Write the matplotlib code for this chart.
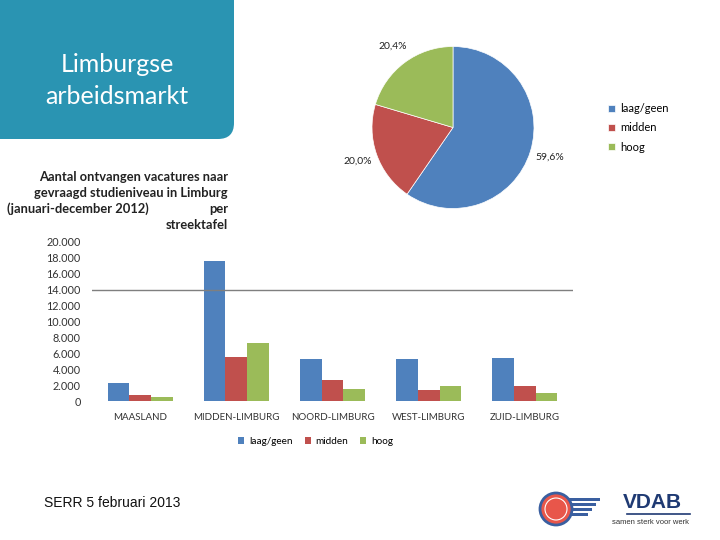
import numpy as np
import matplotlib.pyplot as plt
from matplotlib.patches import FancyBboxPatch, Circle, Rectangle

# bar chart data
regions = ["MAASLAND", "MIDDEN-LIMBURG", "NOORD-LIMBURG", "WEST-LIMBURG", "ZUID-LIMBURG"]
laag_geen = [2300, 17650, 5250, 5250, 5450]
midden = [800, 5550, 2700, 1400, 1900]
hoog = [500, 7350, 1550, 1900, 1050]
yticks = [0, 2000, 4000, 6000, 8000, 10000, 12000, 14000, 16000, 18000, 20000]

# pie chart data
levels = ["laag/geen", "midden", "hoog"]
pie_pct = [59.6, 20.0, 20.4]

colors = ["#4F81BD", "#C0504D", "#9BBB59"]
teal = "#2A94B2"

fig = plt.figure(figsize=(7.2, 5.4), dpi=100)

# background axes in pixel coordinates for the slide decoration
bg = fig.add_axes([0, 0, 1, 1], zorder=-1)
bg.set_xlim(0, 720)
bg.set_ylim(540, 0)
bg.axis("off")

box = FancyBboxPatch((-40, -40), 274, 179, boxstyle="round,pad=0,rounding_size=16",
                     facecolor=teal, edgecolor="none")
bg.add_patch(box)
bg.text(117, 64, "Limburgse", color="white", fontsize=18, family="Lato",
        ha="center", va="center")
bg.text(117, 97, "arbeidsmarkt", color="white", fontsize=18, family="Lato",
        ha="center", va="center")

# bar chart title (justified look)
tkw = dict(fontsize=9.3, fontweight="bold", family="Lato", color="#222222", va="center")
bg.text(228, 177, "Aantal ontvangen vacatures naar", ha="right", **tkw)
bg.text(228, 193, "gevraagd studieniveau in Limburg", ha="right", **tkw)
bg.text(7, 209, "(januari-december 2012)", ha="left", **tkw)
bg.text(228, 209, "per", ha="right", **tkw)
bg.text(228, 225, "streektafel", ha="right", **tkw)

bg.text(44, 503, "SERR 5 februari 2013", fontsize=10, family="Liberation Sans",
        color="#111111", ha="left", va="center")

# logos (rough)
for i, dy in enumerate([-9, -4, 1, 6]):
    bg.add_patch(Rectangle((560, 508 + dy - 1.5), 40 - i * 4, 3, facecolor="#3A5FA0",
                           edgecolor="none"))
bg.add_patch(Circle((556, 509), 16, facecolor="#E8564A", edgecolor="#3A5FA0", lw=2))
bg.add_patch(Circle((556, 509), 11, facecolor="none", edgecolor="white", lw=0.8))
bg.text(652, 502, "VDAB", fontsize=15, fontweight="bold", family="Liberation Sans",
        color="#1F3A73", ha="center", va="center")
bg.plot([627, 690], [514, 514], color="#1F3A73", lw=1.2)
bg.text(651, 523, "samen sterk voor werk", fontsize=5.5, family="Liberation Sans",
        color="#333333", ha="center", va="center")

# bar chart
ax = fig.add_axes([92 / 720, 1 - 401 / 540, 481 / 720, 159 / 540])
x = np.arange(len(regions))
w = 0.225
ax.bar(x - w, laag_geen, w, color=colors[0], label=levels[0])
ax.bar(x, midden, w, color=colors[1], label=levels[1])
ax.bar(x + w, hoog, w, color=colors[2], label=levels[2])
ax.set_xlim(-0.5, 4.5)
ax.set_ylim(0, 20000)
ax.set_yticks(yticks)
ax.set_yticklabels([f"{v:,}".replace(",", ".") for v in yticks])
ax.set_xticks(x)
ax.set_xticklabels(regions)
ax.axhline(14000, color="#7F7F7F", lw=1)
for s in ax.spines.values():
    s.set_visible(False)
ax.tick_params(length=0, colors="#333333")
ax.tick_params(axis="y", pad=8, labelsize=7.8)
ax.tick_params(axis="x", pad=9, labelsize=7)
for lbl in ax.get_xticklabels() + ax.get_yticklabels():
    lbl.set_family("Lato")
ax.legend(loc="upper center", bbox_to_anchor=(0.465, -0.17), ncol=3, frameon=False,
          handlelength=0.6, handleheight=0.6, columnspacing=1.2,
          handletextpad=0.5, prop={"family": "Lato", "size": 7.2})

# pie chart
pax = fig.add_axes([(453 - 81) / 720, 1 - (127.5 + 81) / 540, 162 / 720, 162 / 540])
pie_labels = [f"{v:.1f}%".replace(".", ",") for v in pie_pct]
wedges, texts = pax.pie(pie_pct, colors=colors, startangle=90, counterclock=False,
                        labels=pie_labels, labeldistance=1.25,
                        wedgeprops=dict(edgecolor="white", linewidth=0.5),
                        textprops=dict(fontsize=7.5, family="Lato", color="#222222"))
for t in texts:
    t.set_ha("center")
pax.set_xlim(-1, 1)
pax.set_ylim(-1, 1)
pax.set_aspect("equal")
pax.legend(wedges, levels, loc="center left", bbox_to_anchor=(598 / 720, 1 - 128 / 540),
           bbox_transform=fig.transFigure, frameon=False, handlelength=0.6,
           handleheight=0.6, handletextpad=0.5, labelspacing=0.75,
           prop={"family": "Lato", "size": 8})

fig.savefig("out.png", dpi=100)
